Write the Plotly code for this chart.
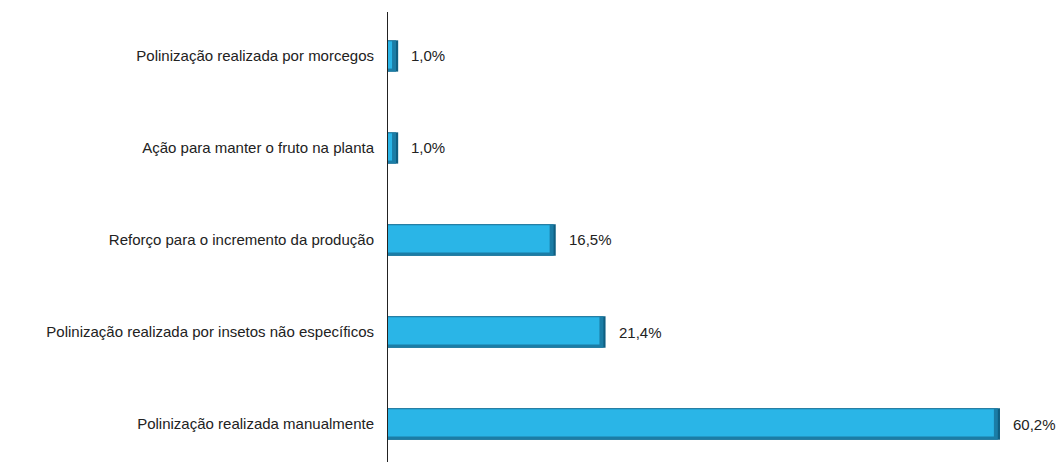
import plotly.graph_objects as go

# Categories from bottom to top, with their shares (%)
categorias = [
    "Polinização realizada manualmente",
    "Polinização realizada por insetos não específicos",
    "Reforço para o incremento da produção",
    "Ação para manter o fruto na planta",
    "Polinização realizada por morcegos",
]
percentuais = [60.2, 21.4, 16.5, 1.0, 1.0]
rotulos = [f"{v:.1f}%".replace(".", ",") for v in percentuais]

FONTE = "Liberation Sans Narrow, Arial Narrow, Liberation Sans, Arial, sans-serif"
AZUL = "#2AB5E7"
AZUL_BORDA = "#1B7DA6"
AZUL_ESCURO = "#0F5F82"

# Bevel: inner face stops a little short of the bar end
BISEL = 0.6
face = [max(v - BISEL, v * 0.35) for v in percentuais]
fim = [max(v - BISEL * 0.35, v * 0.7) for v in percentuais]

fig = go.Figure()

# Dark body forms the shaded right end
fig.add_trace(go.Bar(
    y=categorias, x=percentuais, orientation="h",
    width=0.34,
    marker=dict(color=AZUL_ESCURO, line=dict(width=0)),
    hoverinfo="skip",
))

# Mid-tone rim along the edges
fig.add_trace(go.Bar(
    y=categorias, x=fim, orientation="h",
    width=0.34,
    marker=dict(color=AZUL_BORDA, line=dict(width=0)),
    hoverinfo="skip",
))

# Light face on top of it
fig.add_trace(go.Bar(
    y=categorias, x=face, orientation="h",
    width=0.296, offset=-0.137,
    marker=dict(color=AZUL, line=dict(width=0)),
    hoverinfo="skip",
))

# Percentage labels beside each bar
for cat, v, txt in zip(categorias, percentuais, rotulos):
    fig.add_annotation(
        x=v, y=cat, text=txt, showarrow=False,
        xanchor="left", yanchor="middle", xshift=11,
        font=dict(family=FONTE, size=15, color="#222222"),
    )

fig.update_layout(
    width=1062, height=462,
    margin=dict(l=388, r=0, t=12, b=0),
    paper_bgcolor="white", plot_bgcolor="white",
    showlegend=False,
    barmode="overlay",
    xaxis=dict(range=[0, 66.3], visible=False),
    yaxis=dict(
        range=[-0.413, 4.478],
        showline=True, linecolor="#222222", linewidth=1,
        showgrid=False, zeroline=False, ticks="",
        ticklabelstandoff=10,
        tickfont=dict(family=FONTE, size=15, color="#222222"),
    ),
)

fig.write_html("out.html")
